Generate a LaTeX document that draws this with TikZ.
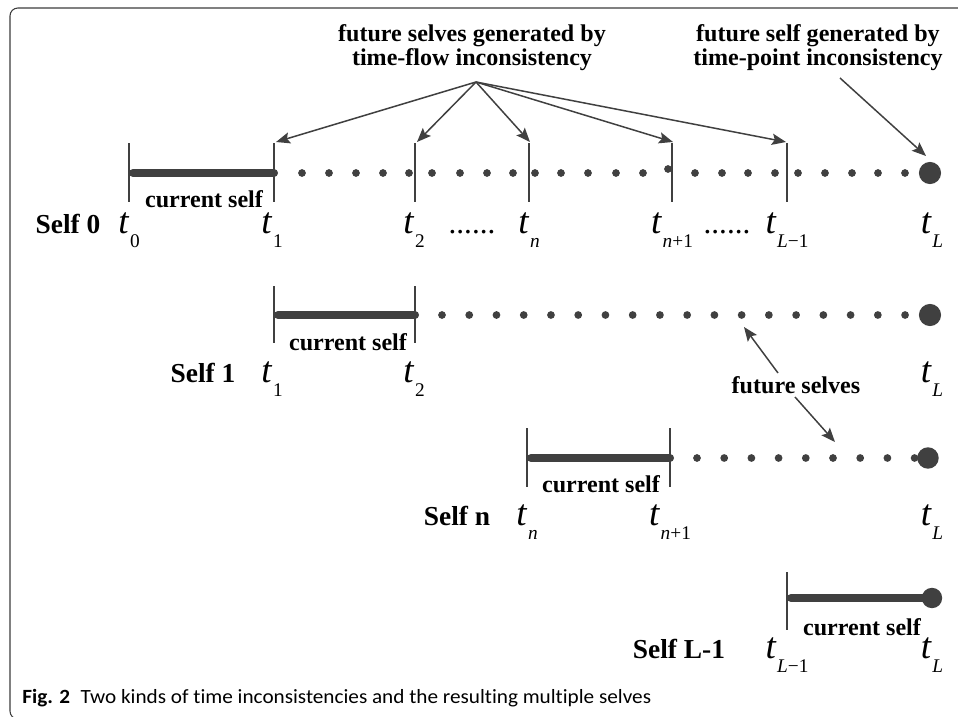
\documentclass[tikz,border=0pt]{standalone}
\usepackage{fontspec}
\setmainfont{Liberation Serif}
\newfontfamily\capfont[FakeStretch=1.05, Ligatures=NoCommon]{Carlito}
\usepackage{tikz}
\usetikzlibrary{arrows.meta}

\definecolor{linegray}{RGB}{64,64,64}
\definecolor{framegray}{RGB}{60,60,60}

% t with a lowered subscript
\newcommand{\tlab}[1]{\textit{t}\kern0.4pt\raisebox{-8.2pt}{\fontsize{11}{13}\selectfont #1}}

\begin{document}
\begin{tikzpicture}[
            x=0.02cm, y=-0.02cm,
            tick/.style={draw=linegray, line width=0.8pt},
            bar/.style={draw=linegray, line width=4.6pt, line cap=round},
            arr/.style={draw=linegray, line width=0.85pt, -{Stealth[length=8pt, width=6.4pt, inset=1.5pt]}},
            lbl/.style={font=\bfseries\fontsize{13.7}{12.3}\selectfont, inner sep=0pt, align=center},
            cur/.style={font=\bfseries\fontsize{13.7}{16}\selectfont, inner sep=0pt, anchor=base},
            selfl/.style={font=\bfseries\fontsize{15.6}{18}\selectfont, inner sep=0pt, anchor=base},
            tl/.style={font=\fontsize{21}{24}\selectfont, inner sep=0pt, anchor=base},
            dd/.style={font=\fontsize{17.7}{20}\selectfont, inner sep=0pt, anchor=base},
        ]
        \path[use as bounding box, clip] (0,0) rectangle (958,717);
        \draw[framegray, line width=0.6pt, rounded corners=4.5pt] (10,8) rectangle (975,719);

        % top labels
        \node[lbl] (flow) at (472,48) {future selves generated by\\time-flow inconsistency};
        \node[lbl] (point) at (818,48) {future self generated by\\time-point inconsistency};
        \coordinate (apex) at (476,82);
        \coordinate (pstart) at (840,78);

        % self 0
        \draw[tick] (129,143) -- (129,202);
        \foreach \x in {274,415,529,672,787} \draw[tick] (\x,143) -- (\x,202);
        \draw[bar] (133,173) -- (274,173);
        \foreach \x in {302,329,356,383,409,432,460,487,513,535,561,588,616,643,695,722,748,775,798,825,852,878,905}
            \fill[linegray] (\x,173) circle (2.2pt);
        \fill[linegray] (668,169) circle (2.2pt);
        \fill[linegray] (930,173) circle (6.3pt);
        \coordinate (a1) at (276,142);
        \coordinate (a2) at (417,142);
        \coordinate (an) at (530,142);
        \coordinate (an1) at (673,142);
        \coordinate (aL1) at (786,142);
        \coordinate (aL) at (926,156);
        \node[cur] (cur0) at (204,207) {current self};
        \node[selfl] (self0) at (68,233) {Self 0};
        \node[tl] (s0t0) at (129,233) {\tlab{0}};
        \node[tl] (s0t1) at (272,233) {\tlab{1}};
        \node[tl] (s0t2) at (414,233) {\tlab{2}};
        \node[dd] (s0d1) at (472,233) {......};
        \node[tl] (s0tn) at (529,233) {\tlab{\textit{n}}};
        \node[tl] (s0tn1) at (672,233) {\tlab{\textit{n}+1}};
        \node[dd] (s0d2) at (727,233) {......};
        \node[tl] (s0tL1) at (787,233) {\tlab{\textit{L}−1}};
        \node[tl] (s0tL) at (932,233) {\tlab{\textit{L}}};
        \foreach \t in {a1,a2,an,an1,aL1} \draw[arr] (apex) -- (\t);
        \draw[arr] (pstart) -- (aL);

        % self 1
        \foreach \x in {274,415} \draw[tick] (\x,286) -- (\x,343);
        \draw[bar] (278,315) -- (415,315);
        \foreach \k in {0,...,17} \fill[linegray] ({442+27.24*\k},315) circle (2.2pt);
        \fill[linegray] (930,315) circle (6.3pt);
        \node[cur] (cur1) at (348,350) {current self};
        \node[selfl] (self1) at (203,382) {Self 1};
        \node[tl] (s1t1) at (272,382) {\tlab{1}};
        \node[tl] (s1t2) at (414,382) {\tlab{2}};
        \node[tl] (s1tL) at (932,382) {\tlab{\textit{L}}};

        % future selves
        \node[font=\bfseries\fontsize{13.7}{16}\selectfont, inner sep=0pt] (fut) at (796,385) {future selves};
        \coordinate (fa) at (778,373);
        \coordinate (fb) at (795,397);
        \coordinate (fd1) at (744,327);
        \coordinate (fd2) at (835,442);
        \draw[arr] (fa) -- (fd1);
        \draw[arr] (fb) -- (fd2);

        % self n
        \foreach \x in {527,670} \draw[tick] (\x,428) -- (\x,487);
        \draw[bar] (531,458) -- (670,458);
        \foreach \k in {0,...,8} \fill[linegray] ({697+27.2*\k},458) circle (2.2pt);
        \fill[linegray] (928,458) circle (6.1pt);
        \node[cur] (curn) at (601,492) {current self};
        \node[selfl] (selfn) at (457,525) {Self n};
        \node[tl] (sntn) at (527,525) {\tlab{\textit{n}}};
        \node[tl] (sntn1) at (670,525) {\tlab{\textit{n}+1}};
        \node[tl] (sntL) at (932,525) {\tlab{\textit{L}}};

        % self L-1
        \draw[tick] (787,572) -- (787,630);
        \draw[bar] (791,598) -- (932,598);
        \fill[linegray] (932,598) circle (5.8pt);
        \node[cur] (curL) at (862,635) {current self};
        \node[selfl] (selfL) at (679,658) {Self L-1};
        \node[tl] (sLtL1) at (787,658) {\tlab{\textit{L}−1}};
        \node[tl] (sLtL) at (932,658) {\tlab{\textit{L}}};

        % caption
        \node[anchor=base west, inner sep=0pt, font=\capfont\fontsize{11.5}{13}\selectfont] (cap) at (22,703)
            {\textbf{Fig. 2}\hspace{6pt}Two kinds of time inconsistencies and the resulting multiple selves};
        \end{tikzpicture}
\end{document}
